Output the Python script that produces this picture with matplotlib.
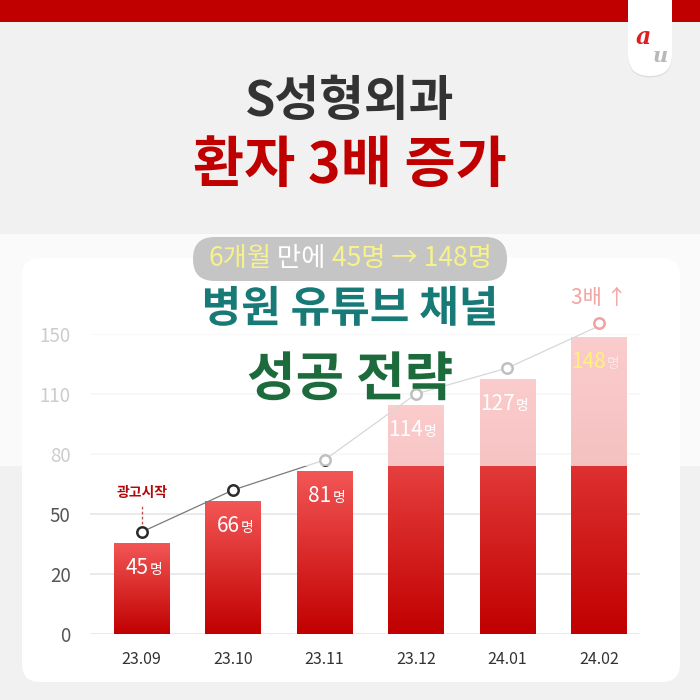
import numpy as np
import matplotlib
matplotlib.use("Agg")
import matplotlib.pyplot as plt
from matplotlib.patches import Rectangle, FancyBboxPatch
from matplotlib.colors import LinearSegmentedColormap
from matplotlib.transforms import ScaledTranslation
from matplotlib.offsetbox import TextArea, HPacker, AnnotationBbox
import matplotlib.patheffects as pe

plt.rcParams['font.family'] = ['Noto Sans CJK KR', 'DejaVu Sans']

# ---- data ----
months = ['23.09', '23.10', '23.11', '23.12', '24.01', '24.02']
patients = [45, 66, 81, 114, 127, 148]
ytick_labels = ['0', '20', '50', '80', '110', '150']
title1 = 'S성형외과'
title2 = '환자 3배 증가'
pill_parts = ['6개월', ' 만에 ', '45명 → 148명']
head1 = '병원 유튜브 채널'
head2 = '성공 전략'
unit = '명'
note = '광고시작'
growth = '3배 ↑'

W = H = 700.0
def fx(x): return x / W
def fy(y): return 1 - y / H

fig = plt.figure(figsize=(7, 7), dpi=100, facecolor='#f1f1f1')

# top band
fig.patches.append(Rectangle((0, fy(22)), 1, 22 / H, transform=fig.transFigure,
                             fc='#c00000', ec='none', zorder=1))
# logo tab
tab = FancyBboxPatch((fx(628), fy(76)), 44 / W, 110 / H, boxstyle='round,pad=0,rounding_size=0.031',
                     transform=fig.transFigure, fc='white', ec='none', zorder=2,
                     path_effects=[pe.SimplePatchShadow(offset=(0, -1), alpha=0.12), pe.Normal()])
fig.patches.append(tab)
fig.text(fx(643), fy(37), 'a', color='#e01e1e', fontsize=17, fontweight='bold', style='italic',
         ha='center', va='center', family='DejaVu Serif', zorder=3)
fig.text(fx(660), fy(56), 'u', color='#b8b8b8', fontsize=15, fontweight='bold', style='italic',
         ha='center', va='center', family='DejaVu Serif', zorder=3)

# titles
fig.text(0.5, fy(101), title1, ha='center', va='center', fontsize=35, fontweight='bold',
         color='#333333', zorder=3)
fig.text(0.5, fy(166), title2, ha='center', va='center', fontsize=40, fontweight='bold',
         color='#c00000', zorder=3)

# white card
card = FancyBboxPatch((fx(22), fy(682)), 658 / W, 424 / H, boxstyle='round,pad=0,rounding_size=0.026',
                      transform=fig.transFigure, fc='white', ec='none', zorder=1)
fig.patches.append(card)

# axes
ax = fig.add_axes([fx(90), fy(634), 550 / W, 300 / H], zorder=2)
ax.set_facecolor('none')
for s in ax.spines.values():
    s.set_visible(False)

x = np.arange(len(months))
bw = 0.61
cmap = LinearSegmentedColormap.from_list('redgrad', ['#c10000', '#f35656'])
grad = np.linspace(0, 1, 256).reshape(-1, 1)
for xi, v in zip(x, patients):
    ax.imshow(grad, cmap=cmap, extent=[xi - bw / 2, xi + bw / 2, 0, v], origin='lower',
              aspect='auto', zorder=2, interpolation='bicubic')

ax.set_xlim(-0.565, 5.45)
ax.set_ylim(0, 150)
ax.set_yticks(np.linspace(0, 150, len(ytick_labels)))
ax.set_yticklabels(ytick_labels)
ax.set_xticks(x)
ax.set_xticklabels(months)
ax.tick_params(axis='y', length=0, pad=14, labelsize=13.5, labelcolor='#555555')
ax.tick_params(axis='x', length=0, pad=12, labelsize=11.5, labelcolor='#333333')
for lab in ax.get_yticklabels():
    lab.set_fontweight('light')
ax.grid(axis='y', color='#e8e8e8', lw=1.3, zorder=0)
ax.set_axisbelow(True)

# trend line (drawn just above the bars)
up = ScaledTranslation(0, 0.12, fig.dpi_scale_trans)
ax.plot(x, patients, color='#7a7a7a', lw=0.9, transform=ax.transData + up, zorder=4, clip_on=False)
ax.plot(x[:-1], patients[:-1], 'o', ms=7.5, mfc='white', mec='#2b2b2b', mew=1.8,
        transform=ax.transData + up, zorder=5, clip_on=False)

# "광고시작" annotation: dashed guide from first marker upward
base = ax.transData.transform((x[0], patients[0]))
bx, by = fig.transFigure.inverted().transform(base)
fig.add_artist(plt.Line2D([bx, bx], [by + 20 / H, by + 38 / H], color='#c55050', lw=1,
                          ls=(0, (2, 1.6)), transform=fig.transFigure, zorder=3))
fig.text(bx, by + 51 / H, note, ha='center', va='center', fontsize=10, fontweight='bold',
         color='#b00a0a', zorder=3)

lx, ly = fig.transFigure.inverted().transform(ax.transData.transform((x[-1], patients[-1])))

# white overlay over upper part
fig.patches.append(Rectangle((0, fy(466)), 1, (466 - 234) / H, transform=fig.transFigure,
                             fc='white', ec='none', alpha=0.7, zorder=5))

# last marker & growth text above overlay
fig.add_artist(plt.Line2D([lx], [ly + 15 / H], marker='o', ms=7.5, mfc='white', mec='#f0a2a2',
                          mew=1.8, transform=fig.transFigure, zorder=6))
fig.text(lx, ly + 40 / H, growth, ha='center', va='center', fontsize=15, color='#f2a3a3', zorder=6)

# value labels
for xi, v in zip(x, patients):
    cx, cy = fig.transFigure.inverted().transform(ax.transData.transform((xi, v)))
    ncol = '#fff27a' if v == patients[-1] else 'white'
    ucol = '#fbe6e6' if v == patients[-1] else 'white'
    fig.text(cx + 7 / W, cy - 30 / H, str(v), ha='right', va='baseline', fontsize=15,
             color=ncol, fontweight='medium', zorder=7)
    fig.text(cx + 8 / W, cy - 30 / H, unit, ha='left', va='baseline', fontsize=10,
             color=ucol, zorder=7)

# pill
pill = FancyBboxPatch((fx(193), fy(281)), 314 / W, 44 / H, boxstyle='round,pad=0,rounding_size=0.031',
                      transform=fig.transFigure, fc='#c5c5c5', ec='none', zorder=7)
fig.patches.append(pill)
pcols = ['#f7f28a', '#ffffff', '#f7f28a']
box = HPacker(children=[TextArea(t, textprops=dict(color=c, fontsize=19)) for t, c in zip(pill_parts, pcols)],
              sep=0, pad=0, align='baseline')
ab = AnnotationBbox(box, (0.5, fy(259)), xycoords='figure fraction', frameon=False,
                    box_alignment=(0.5, 0.5), zorder=8)
fig.add_artist(ab)

# headline overlays
shadow = [pe.SimpleLineShadow(offset=(1.5, -1.5), alpha=0.15), pe.Normal()]
fig.text(0.5, fy(309), head1, ha='center', va='center', fontsize=31, fontweight='bold',
         color='#187a77', zorder=8, path_effects=shadow)
fig.text(0.5, fy(380), head2, ha='center', va='center', fontsize=38, fontweight='bold',
         color='#1d6b3c', zorder=8, path_effects=shadow)

fig.savefig('out.png', dpi=100, facecolor=fig.get_facecolor())
